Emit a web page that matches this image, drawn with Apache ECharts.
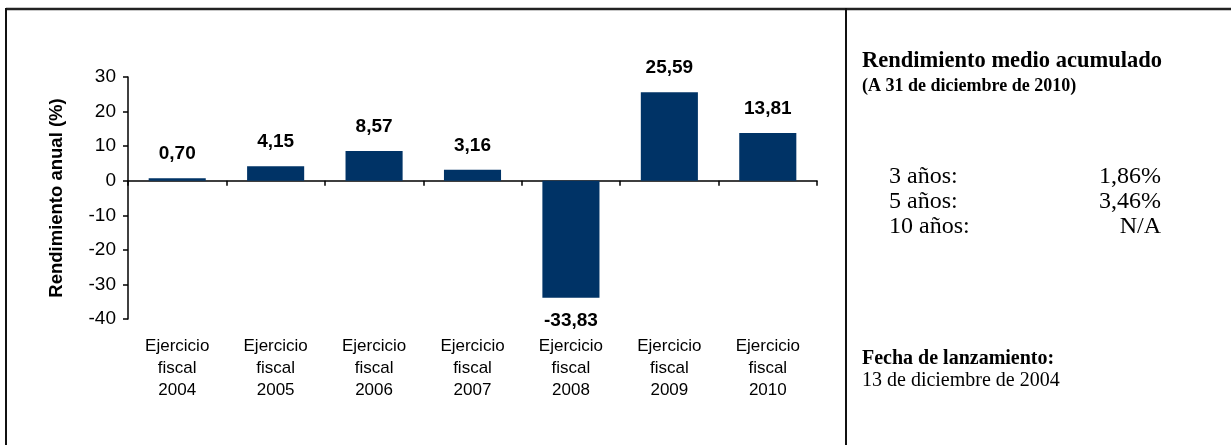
<!DOCTYPE html>
<html>
<head>
<meta charset="utf-8">
<script src="https://cdn.jsdelivr.net/npm/echarts@6/dist/echarts.min.js"></script>
<style>
  html, body { margin: 0; padding: 0; background: #fff; }
  #chart { width: 1231px; height: 445px; }
</style>
</head>
<body>
<div id="chart"></div>
<script>
// Annual returns by fiscal year (%)
const categories = ['Ejercicio\nfiscal\n2004', 'Ejercicio\nfiscal\n2005', 'Ejercicio\nfiscal\n2006',
  'Ejercicio\nfiscal\n2007', 'Ejercicio\nfiscal\n2008', 'Ejercicio\nfiscal\n2009', 'Ejercicio\nfiscal\n2010'];
const returns = [0.70, 4.15, 8.57, 3.16, -33.83, 25.59, 13.81];

// Cumulative average return panel
const periods = ['3 años:', '5 años:', '10 años:'];
const periodValues = ['1,86%', '3,46%', 'N/A'];

const fmt = v => v.toFixed(2).replace('.', ',');
const BAR = '#003366';
const SANS = '"Liberation Sans", Arial, sans-serif';
const SERIF = '"Liberation Serif", "Times New Roman", serif';

const chart = echarts.init(document.getElementById('chart'));

// Side panel text, anchored by vertical centre
function txt(x, y, text, font, align) {
  return {
    type: 'text',
    style: {
      x: x, y: y, text: text, font: font, fill: '#000',
      align: align || 'left', verticalAlign: 'middle',
      textAlign: align || 'left', textVerticalAlign: 'middle'
    }
  };
}

const panelText = [
  txt(862, 61, 'Rendimiento medio acumulado', 'bold 22.5px ' + SERIF),
  txt(862, 86, '(A 31 de diciembre de 2010)', 'bold 18px ' + SERIF)
];
periods.forEach((p, i) => {
  panelText.push(txt(889, 177 + i * 25, p, '24px ' + SERIF));
  panelText.push(txt(1161, 177 + i * 25, periodValues[i], '24px ' + SERIF, 'right'));
});
panelText.push(txt(862, 359, 'Fecha de lanzamiento:', 'bold 20px ' + SERIF));
panelText.push(txt(862, 381, '13 de diciembre de 2004', '20px ' + SERIF));

chart.setOption({
  animation: false,
  grid: { left: 128, right: 414, top: 77, bottom: 126, containLabel: false },
  xAxis: [
    {
      type: 'category',
      data: categories,
      position: 'bottom',
      axisLine: { onZero: true, lineStyle: { color: '#000', width: 1.5 } },
      axisTick: { show: true, length: 5, inside: false, lineStyle: { color: '#000', width: 1.5 } },
      axisLabel: { show: false }
    },
    {
      type: 'category',
      data: categories,
      position: 'bottom',
      axisLine: { show: false, onZero: false },
      axisTick: { show: false },
      axisLabel: { show: true, color: '#000', fontFamily: SANS, fontSize: 17, lineHeight: 22, margin: 16, interval: 0 }
    }
  ],
  yAxis: {
    type: 'value',
    min: -40, max: 30, interval: 10,
    name: 'Rendimiento anual (%)',
    nameLocation: 'middle',
    nameGap: 62,
    nameTextStyle: { color: '#000', fontFamily: SANS, fontSize: 18.5, fontWeight: 'bold' },
    axisLine: { show: true, lineStyle: { color: '#000', width: 1.5 } },
    axisTick: { show: true, length: 5, lineStyle: { color: '#000', width: 1.5 } },
    axisLabel: { color: '#000', fontFamily: SANS, fontSize: 19, margin: 12 },
    splitLine: { show: false }
  },
  series: [{
    type: 'bar',
    xAxisIndex: 0,
    barWidth: '58%',
    itemStyle: { color: BAR },
    data: returns.map(v => ({
      value: v,
      label: {
        show: true,
        position: v >= 0 ? 'top' : 'bottom',
        distance: v >= 0 ? 15 : 14,
        formatter: p => fmt(p.value),
        color: '#000', fontFamily: SANS, fontSize: 19, fontWeight: 'bold'
      }
    }))
  }],
  graphic: [
    { type: 'line', shape: { x1: 6, y1: 9, x2: 1231, y2: 9 }, style: { stroke: '#222', lineWidth: 2.5 } },
    { type: 'line', shape: { x1: 6, y1: 8, x2: 6, y2: 445 }, style: { stroke: '#111', lineWidth: 2 } },
    { type: 'line', shape: { x1: 846, y1: 8, x2: 846, y2: 445 }, style: { stroke: '#111', lineWidth: 2 } }
  ].concat(panelText)
});
</script>
</body>
</html>
